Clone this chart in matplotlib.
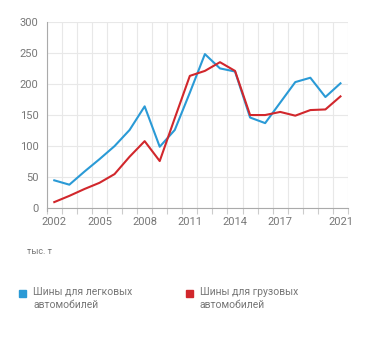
import numpy as np
import matplotlib.pyplot as plt

years = list(range(2002, 2022))
cars = [45, 38, 59, 79, 100, 126, 164, 99, 126, 186, 248, 225, 220, 146, 137, 170, 203, 210, 179, 201]
trucks = [10, 20, 31, 41, 55, 83, 108, 76, 145, 213, 221, 235, 221, 150, 150, 155, 149, 158, 159, 180]
label_years = [2002, 2005, 2008, 2011, 2014, 2017, 2021]
names = ['Шины для легковых\nавтомобилей', 'Шины для грузовых\nавтомобилей']
colors = ['#2a9ad6', '#d1272c']

plt.rcParams['font.family'] = ['Roboto', 'DejaVu Sans']
fig = plt.figure(figsize=(3.71, 3.57), dpi=100)
ax = fig.add_axes([0.126, 0.4165, 0.812, 0.5225])

x = np.arange(len(years))
ax.plot(x, cars, color=colors[0], lw=1.5, zorder=3)
ax.plot(x, trucks, color=colors[1], lw=1.5, zorder=3)

ax.set_xlim(-0.5, len(years) - 0.5)
ax.set_ylim(0, 300)
ax.set_yticks(range(0, 301, 50))
ax.set_xticks([years.index(y) for y in label_years])
ax.set_xticklabels([str(y) for y in label_years])
ax.set_xticks(np.arange(-0.5, len(years), 1), minor=True)

ax.grid(axis='y', color='#e8e8e8', lw=0.8)
ax.grid(axis='x', which='minor', color='#e8e8e8', lw=0.8)
ax.tick_params(axis='x', which='major', length=0, pad=6, labelsize=8, labelcolor='#777777')
ax.tick_params(axis='x', which='minor', length=4, color='#cccccc', width=0.8)
ax.tick_params(axis='y', length=0, pad=6, labelsize=8, labelcolor='#777777')
for s in ['top', 'right']:
    ax.spines[s].set_visible(False)
ax.spines['left'].set_color('#aaaaaa')
ax.spines['bottom'].set_color('#aaaaaa')
ax.spines['left'].set_bounds(-4, 300)

fig.text(27 / 371, 1 - 252 / 357, 'тыс. т', fontsize=6.5, color='#777777', va='center')

lx = [22.7, 189]
for i in range(2):
    fig.patches.append(plt.Rectangle((lx[i] / 371 - 0.009, 1 - 297 / 357), 7 / 371, 7 / 357,
                                     transform=fig.transFigure, color=colors[i]))
    fig.text((lx[i] + 10.5) / 371, 1 - 287 / 357, names[i], fontsize=7.5, color='#777777',
             va='top', linespacing=1.35)

fig.savefig('out.png', dpi=100)
